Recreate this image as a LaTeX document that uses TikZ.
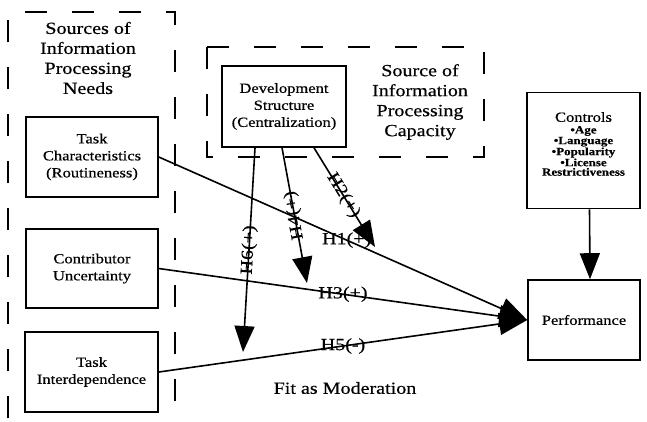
\documentclass[tikz,border=0pt]{standalone}
\usepackage{fontspec}
\setmainfont{Liberation Serif}[FakeStretch=1.18,FakeBold=0.5]
\usetikzlibrary{arrows.meta}
\begin{document}
\begin{tikzpicture}[x=1pt,y=-1pt,
  box/.style={draw,line width=1.6pt,inner sep=0pt,align=center,font=\fontsize{14}{17}\selectfont},
  title/.style={align=center,font=\fontsize{17}{20}\selectfont},
  hlab/.style={font=\fontsize{17}{17}\selectfont,inner sep=0pt},
  dashbox/.style={line width=1.5pt,dash pattern=on 22pt off 25pt},
  conn/.style={line width=1.6pt,-{Triangle[length=26pt,width=20pt]}},
  conv/.style={line width=1.6pt,-{Triangle[length=28pt,width=22pt]}}]
\useasboundingbox (0,0) rectangle (647,421);
% dashed groups
\draw[dashbox] (8,418) -- (8,12) -- (175,12) -- (175,418);
\draw[dashbox] (207,47) rectangle (484,157);
% titles
\node[title] (needs) at (88,58) {Sources of\\Information\\Processing\\Needs};
\node[title] (cap) at (420,102) {Source of\\Information\\Processing\\Capacity};
\node[title] (fit) at (345,388) {Fit as Moderation};
% boxes
\node[box,minimum width=132pt,minimum height=80pt] (task) at (92,157) {Task\\Characteristics\\(Routineness)};
\node[box,minimum width=132pt,minimum height=79pt] (contrib) at (92,268.5) {Contributor\\Uncertainty};
\node[box,minimum width=133pt,minimum height=80pt] (inter) at (91.5,372) {Task\\Interdependence};
\node[box,minimum width=124pt,minimum height=81pt] (dev) at (284,106.5) {Development\\Structure\\(Centralization)};
\node[box,minimum width=113pt,minimum height=116pt] (ctrl) at (583.5,150.5) {};
\node[inner sep=0pt,font=\fontsize{14}{15}\selectfont] (ctrltitle) at (583.5,117) {Controls};
\node[inner sep=0pt,align=center,font=\bfseries\fontsize{11}{9.5}\selectfont,anchor=north] (ctrlitems) at (583.5,126) {•Age\\•Language\\•Popularity\\•License\\Restrictiveness};
\node[box,minimum width=112pt,minimum height=80pt] (perf) at (584,320) {Performance};
% free ends of moderation arrows
\coordinate (e6) at (243,352);
\coordinate (e4) at (307,283);
\coordinate (e2) at (375,247);
% connectors
\draw[conv] (task.east) -- node[hlab,pos=0.51] (h1) {H1(+)} (perf.west);
\draw[conv] (contrib.east) -- node[hlab,pos=0.5] (h3) {H3(+)} (perf.west);
\draw[conv] (inter.east) -- node[hlab,pos=0.5] (h5) {H5(-)} (perf.west);
\draw[conn] ([xshift=-29pt]dev.south) -- node[hlab,pos=0.5,rotate=86.7] (h6) {H6(+)} (e6);
\draw[conn] ([xshift=-2pt]dev.south) -- node[hlab,pos=0.5,rotate=100.4] (h4) {H4(+)} (e4);
\draw[conn] ([xshift=30pt]dev.south) -- node[hlab,pos=0.48,sloped] (h2) {H2(+)} (e2);
\draw[conn] ([xshift=6pt]ctrl.south) -- ([xshift=6pt]perf.north);
\end{tikzpicture}
\end{document}
